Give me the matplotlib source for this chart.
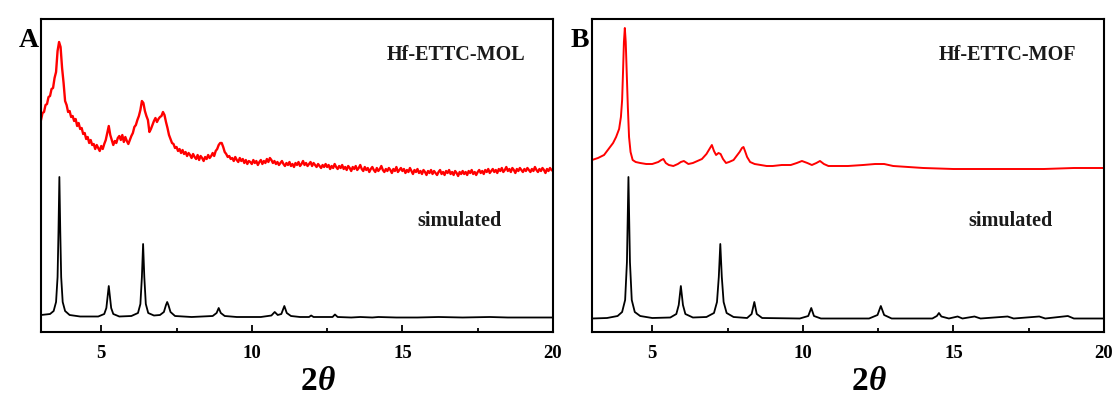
import matplotlib.pyplot as plt
import numpy as np
from matplotlib.ticker import MultipleLocator

# measured pattern, Hf-ETTC-MOL (2theta from 3.00 to 20.00, step 0.05)
mol_x = np.round(np.arange(3.0, 20.001, 0.05), 2)
mol_y = [
    212, 219, 220, 227, 228, 235, 236, 243, 244, 254,
    260, 281, 290, 285, 264, 249, 231, 227, 220, 221,
    215, 216, 211, 213, 206, 209, 203, 204, 198, 199,
    193, 195, 189, 192, 187, 188, 183, 187, 184, 181,
    186, 183, 188, 192, 199, 206, 197, 192, 187, 191,
    189, 194, 196, 192, 197, 190, 195, 191, 188, 192,
    196, 199, 205, 207, 212, 216, 222, 231, 229, 221,
    216, 212, 200, 203, 207, 211, 214, 210, 213, 215,
    216, 220, 217, 210, 204, 197, 193, 189, 188, 184,
    185, 181, 183, 179, 182, 178, 180, 176, 179, 177,
    174, 178, 175, 173, 177, 172, 176, 174, 171, 175,
    173, 177, 174, 176, 179, 176, 181, 183, 187, 189,
    189, 185, 180, 178, 175, 176, 173, 174, 171, 175,
    172, 170, 174, 171, 173, 169, 172, 168, 171, 170,
    168, 172, 169, 171, 167, 170, 172, 168, 171, 169,
    173, 170, 174, 172, 169, 171, 168, 170, 167, 169,
    171, 168, 166, 169, 167, 170, 166, 168, 165, 169,
    167, 170, 166, 168, 171, 167, 169, 166, 168, 170,
    166, 169, 167, 165, 168, 166, 164, 167, 165, 168,
    165, 167, 163, 166, 164, 168, 165, 163, 166, 164,
    167, 163, 165, 162, 166, 164, 161, 165, 163, 166,
    162, 164, 167, 163, 161, 165, 162, 164, 160, 163,
    165, 162, 160, 164, 161, 163, 166, 162, 160, 163,
    161, 164, 162, 159, 163, 161, 165, 160, 162, 164,
    161, 163, 159, 162, 160, 164, 161, 158, 162, 160,
    163, 159, 161, 158, 162, 160, 157, 161, 159, 162,
    158, 161, 159, 157, 160, 162, 158, 160, 157, 161,
    159, 162, 158, 160, 157, 161, 159, 156, 160, 158,
    161, 158, 160, 157, 161, 159, 162, 158, 160, 157,
    160, 162, 159, 161, 158, 162, 160, 163, 159, 161,
    163, 160, 162, 159, 163, 161, 164, 160, 162, 165,
    161, 163, 160, 164, 162, 159, 163, 161, 164, 162,
    160, 163, 161, 164, 162, 160, 163, 161, 165, 162,
    160, 163, 161, 164, 162, 159, 163, 161, 164, 162,
    161,
]

# simulated pattern for the MOL (2theta, intensity)
mol_sim = [
    (3.0, 17), (3.3, 18), (3.42, 21), (3.5, 30), (3.55, 55), (3.58, 100),
    (3.61, 155), (3.64, 100), (3.67, 55), (3.72, 30), (3.8, 21), (3.95, 17),
    (4.3, 15.5), (4.9, 15.5), (5.1, 18), (5.17, 24), (5.21, 35), (5.25, 46),
    (5.29, 35), (5.33, 24), (5.4, 18), (5.6, 15.5), (6.0, 16), (6.22, 19),
    (6.3, 28), (6.35, 55), (6.39, 88), (6.43, 55), (6.48, 28), (6.56, 19),
    (6.75, 16.5), (6.95, 17), (7.08, 20), (7.15, 27), (7.19, 30), (7.23, 27),
    (7.3, 20), (7.45, 16), (8.0, 15), (8.7, 16), (8.83, 19), (8.9, 24),
    (8.97, 19), (9.1, 16), (9.5, 15), (10.3, 15), (10.65, 16.5), (10.76, 20),
    (10.86, 17), (10.98, 18), (11.08, 26), (11.16, 19), (11.3, 16), (11.6, 15),
    (11.9, 15), (11.97, 16.5), (12.05, 15), (12.68, 15), (12.76, 17.5),
    (12.85, 15), (13.3, 14.5), (13.6, 15), (14.0, 14.5), (14.2, 15),
    (14.8, 14.5), (15.5, 14.5), (16.2, 15), (17.0, 14.5), (17.9, 15),
    (18.5, 14.5), (19.2, 14.5), (20.0, 14.5),
]

# measured pattern, Hf-ETTC-MOF (2theta, intensity)
mof_exp = [
    (3.0, 172), (3.2, 174), (3.4, 177), (3.55, 183), (3.7, 189), (3.8, 195),
    (3.9, 203), (3.96, 215), (4.0, 232), (4.03, 260), (4.06, 290), (4.09, 304),
    (4.12, 290), (4.15, 262), (4.19, 225), (4.23, 195), (4.28, 180), (4.35, 172),
    (4.45, 170), (4.6, 169), (4.8, 168), (5.0, 168), (5.2, 170), (5.3, 172),
    (5.37, 173), (5.45, 169), (5.55, 167), (5.7, 166), (5.85, 168), (5.95, 170),
    (6.05, 171), (6.1, 170), (6.2, 168), (6.35, 169), (6.5, 171), (6.65, 173),
    (6.8, 178), (6.9, 183), (6.98, 187), (7.05, 181), (7.12, 177), (7.2, 179),
    (7.27, 178), (7.35, 173), (7.45, 169), (7.55, 170), (7.7, 172), (7.8, 176),
    (7.9, 180), (7.98, 184), (8.03, 185), (8.08, 181), (8.15, 175), (8.25, 170),
    (8.4, 168), (8.6, 167), (8.8, 166), (9.0, 166), (9.3, 167), (9.6, 167),
    (9.8, 169), (9.97, 171), (10.15, 169), (10.3, 167), (10.45, 169),
    (10.57, 171), (10.7, 168), (10.85, 166), (11.1, 166), (11.5, 166),
    (12.0, 167), (12.4, 168), (12.7, 168), (13.0, 166), (13.5, 165),
    (14.0, 164), (15.0, 163), (16.0, 163), (17.0, 163), (18.0, 163),
    (19.0, 164), (20.0, 164),
]

# simulated pattern for the MOF (2theta, intensity)
mof_sim = [
    (3.0, 13.5), (3.5, 14), (3.85, 16), (4.0, 20), (4.1, 32), (4.16, 70),
    (4.21, 155), (4.26, 70), (4.32, 32), (4.42, 20), (4.6, 16), (5.0, 14),
    (5.6, 14.5), (5.8, 18), (5.88, 27), (5.95, 46), (6.02, 27), (6.1, 18),
    (6.35, 14.5), (6.8, 15), (7.05, 19), (7.15, 30), (7.21, 55), (7.26, 88),
    (7.31, 55), (7.37, 30), (7.47, 19), (7.7, 15), (8.15, 14), (8.3, 18),
    (8.39, 30), (8.47, 18), (8.65, 14), (9.9, 13.5), (10.18, 16), (10.28, 24),
    (10.37, 16), (10.6, 13.5), (12.2, 13.5), (12.48, 17), (12.59, 26),
    (12.7, 17), (12.95, 13.5), (14.3, 13.5), (14.45, 16), (14.52, 19),
    (14.6, 15.5), (14.85, 13.5), (15.14, 15.5), (15.3, 13.5), (15.7, 15.5),
    (15.9, 13.5), (16.8, 15.5), (17.0, 13.5), (17.85, 15.5), (18.05, 13.5),
    (18.8, 16), (19.0, 13.5), (20.0, 13.5),
]

panel_letters = ['A', 'B']
sample_names = ['Hf-ETTC-MOL', 'Hf-ETTC-MOF']

serif = 'Liberation Serif'
plt.rcParams['font.family'] = serif

fig = plt.figure(figsize=(11.16, 4.01), dpi=100)
axA = fig.add_axes([41 / 1116, 1 - 332 / 401, 512 / 1116, 313 / 401])
axB = fig.add_axes([592 / 1116, 1 - 332 / 401, 512 / 1116, 313 / 401])

axA.plot(mol_x, mol_y, color='red', lw=1.7)
axA.plot([p[0] for p in mol_sim], [p[1] for p in mol_sim], color='black', lw=1.3)
axB.plot([p[0] for p in mof_exp], [p[1] for p in mof_exp], color='red', lw=1.4)
axB.plot([p[0] for p in mof_sim], [p[1] for p in mof_sim], color='black', lw=1.3)

for ax, letter, name in zip([axA, axB], panel_letters, sample_names):
    ax.set_xlim(3, 20)
    ax.set_ylim(0, 313)
    ax.set_yticks([])
    ax.xaxis.set_major_locator(MultipleLocator(5))
    ax.xaxis.set_minor_locator(MultipleLocator(2.5))
    ax.tick_params(axis='x', which='major', direction='in', length=5, width=1.3, pad=9)
    ax.tick_params(axis='x', which='minor', direction='in', length=3, width=1.3)
    for lab in ax.get_xticklabels():
        lab.set_fontweight('bold')
        lab.set_fontsize(13.5)
    for s in ax.spines.values():
        s.set_linewidth(1.5)
    ax.text(0.946, 0.885, name, transform=ax.transAxes, ha='right', va='center',
            fontsize=14.5, fontweight='bold', color='#1a1a1a')
    ax.text(0.90, 0.355, 'simulated', transform=ax.transAxes, ha='right', va='center',
            fontsize=14.5, fontweight='bold', color='#1a1a1a')
    ax.text(-0.005, 0.93, letter, transform=ax.transAxes, ha='right', va='center',
            fontsize=20, fontweight='bold')
    # axis title: upright "2" with an italic theta
    ax.text(0.54, -0.185, '2', transform=ax.transAxes, ha='right', va='baseline',
            fontsize=24, fontweight='bold')
    ax.text(0.54, -0.185, 'θ', transform=ax.transAxes, ha='left', va='baseline',
            fontsize=24, fontweight='bold', fontstyle='italic')

fig.savefig('out.png', dpi=100)
